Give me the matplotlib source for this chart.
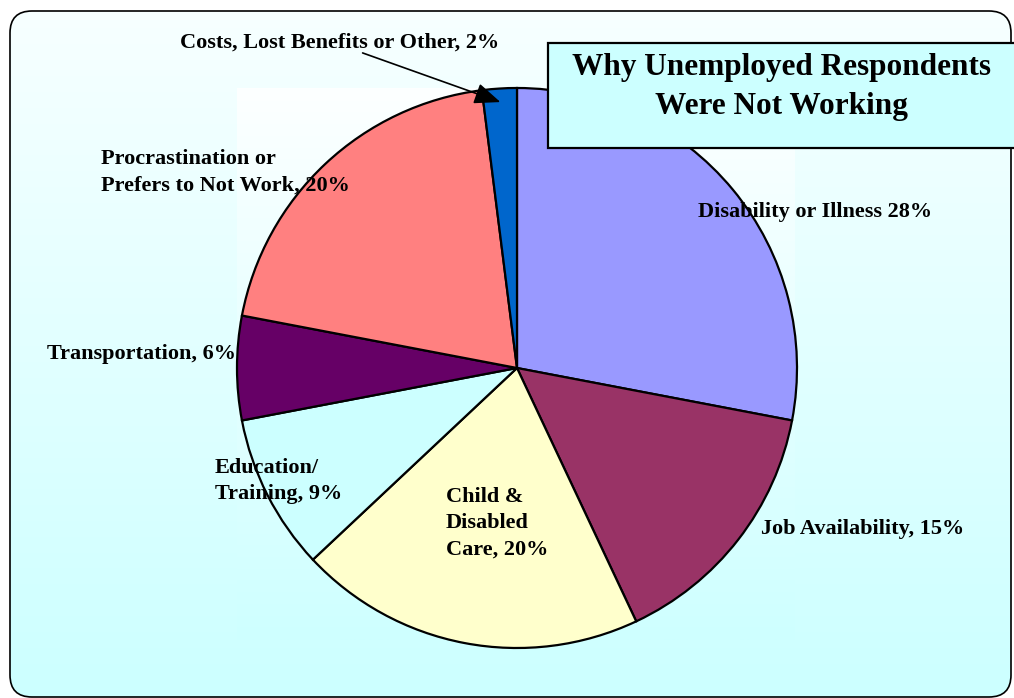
import matplotlib

matplotlib.use('Agg')
import matplotlib.pyplot as plt
import numpy as np
from matplotlib.colors import LinearSegmentedColormap
from matplotlib.patches import FancyBboxPatch, Rectangle

# --- data ---
reasons = ['Disability or Illness', 'Job Availability', 'Child & Disabled Care',
           'Education/Training', 'Transportation',
           'Procrastination or Prefers to Not Work', 'Costs, Lost Benefits or Other']
shares = [28, 15, 20, 9, 6, 20, 2]
slice_colors = ['#9999FF', '#993366', '#FFFFCC', '#CCFFFF', '#660066', '#FF8080', '#0066CC']
label_texts = ['Disability or Illness 28%', 'Job Availability, 15%',
               'Child &\nDisabled\nCare, 20%', 'Education/\nTraining, 9%',
               'Transportation, 6%', 'Procrastination or\nPrefers to Not Work, 20%',
               'Costs, Lost Benefits or Other, 2%']
title = 'Why Unemployed Respondents\nWere Not Working'

W, H = 1014, 698
plt.rcParams['font.family'] = ['Liberation Serif', 'DejaVu Serif']


def py(y):
    """Pixel row (from top) to axes y."""
    return H - y


fig = plt.figure(figsize=(W / 100, H / 100), dpi=100)
fig.patch.set_facecolor('white')
ax = fig.add_axes([0, 0, 1, 1])

# background panel with vertical gradient and rounded border
bg_cmap = LinearSegmentedColormap.from_list('bg', ['#F7FFFF', '#CCFFFF'])
grad = np.linspace(0, 1, 256).reshape(-1, 1)
panel = FancyBboxPatch((10, py(697)), 1001, 686, boxstyle='round,pad=0,rounding_size=22',
                       facecolor='none', edgecolor='black', lw=1.2, zorder=3)
ax.add_patch(panel)
img = ax.imshow(grad, cmap=bg_cmap, aspect='auto', extent=[10, 1011, py(697), py(11)],
                zorder=0)
img.set_clip_path(panel)

# slightly lighter plot area behind the pie
pa_cmap = LinearSegmentedColormap.from_list('pa', ['#FDFFFF', '#CEFFFF'])
ax.imshow(grad, cmap=pa_cmap, aspect='auto', extent=[237, 795, py(640), py(88)], zorder=0.5)

# pie
ax.pie(shares, colors=slice_colors, startangle=90, counterclock=False,
       center=(517, py(368)), radius=280,
       wedgeprops=dict(edgecolor='black', linewidth=1.6), frame=True)

# slice labels
lab = dict(fontsize=16, fontweight='bold', color='black', zorder=6)
ax.text(815, py(212), label_texts[0], ha='center', va='center', **lab)
ax.text(863, py(529), label_texts[1], ha='center', va='center', **lab)
ax.text(446, py(523), label_texts[2], ha='left', va='center', linespacing=1.42, **lab)
ax.text(215, py(481), label_texts[3], ha='left', va='center', linespacing=1.42, **lab)
ax.text(47, py(354), label_texts[4], ha='left', va='center', **lab)
ax.text(101, py(172), label_texts[5], ha='left', va='center', linespacing=1.42, **lab)
ax.text(340, py(43), label_texts[6], ha='center', va='center', **lab)
ax.annotate('', xy=(503, py(103)), xytext=(360, py(52)),
            arrowprops=dict(arrowstyle='-|>,head_length=1.6,head_width=0.65',
                            color='black', lw=1.2), zorder=6)

# title box
ax.add_patch(Rectangle((548, py(148)), 480, 105, facecolor='#CCFFFF',
                       edgecolor='black', lw=1.6, zorder=7))
ax.text(781, py(87), title, ha='center', va='center', fontsize=22.5,
        fontweight='bold', linespacing=1.42, zorder=8)

ax.set_xlim(0, W)
ax.set_ylim(0, H)
ax.set_aspect('auto')
ax.axis('off')

fig.savefig('out.png', dpi=100)
